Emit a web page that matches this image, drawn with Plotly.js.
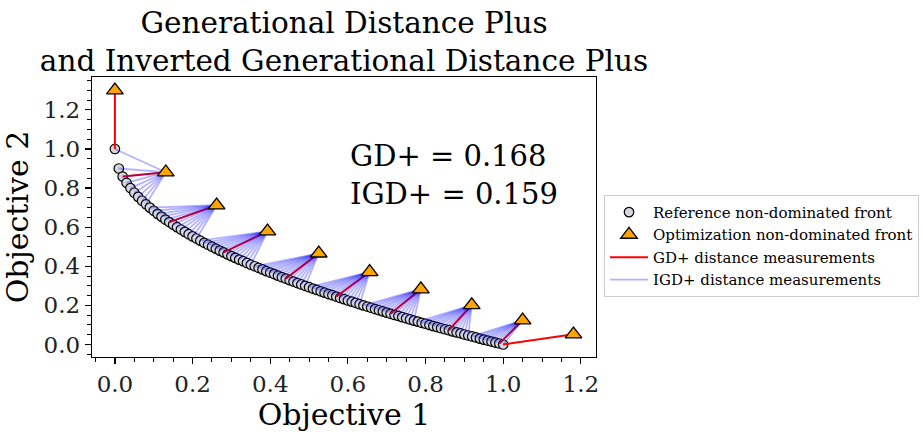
<!DOCTYPE html>
<html><head><meta charset="utf-8">
<script src="https://cdn.plot.ly/plotly-3.0.1.min.js"></script>
<style>html,body{margin:0;padding:0;background:#fff}#chart{width:923px;height:435px}</style>
</head><body><div id="chart"></div>
<script>
const refX = [0.00,0.01,0.02,0.03,0.04,0.05,0.06,0.07,0.08,0.09,
  0.10,0.11,0.12,0.13,0.14,0.15,0.16,0.17,0.18,0.19,
  0.20,0.21,0.22,0.23,0.24,0.25,0.26,0.27,0.28,0.29,
  0.30,0.31,0.32,0.33,0.34,0.35,0.36,0.37,0.38,0.39,
  0.40,0.41,0.42,0.43,0.44,0.45,0.46,0.47,0.48,0.49,
  0.50,0.51,0.52,0.53,0.54,0.55,0.56,0.57,0.58,0.59,
  0.60,0.61,0.62,0.63,0.64,0.65,0.66,0.67,0.68,0.69,
  0.70,0.71,0.72,0.73,0.74,0.75,0.76,0.77,0.78,0.79,
  0.80,0.81,0.82,0.83,0.84,0.85,0.86,0.87,0.88,0.89,
  0.90,0.91,0.92,0.93,0.94,0.95,0.96,0.97,0.98,0.99,1.00];
const refY = [1.000,0.900,0.859,0.827,0.800,0.776,0.755,0.735,0.717,0.700,
  0.684,0.668,0.654,0.639,0.626,0.613,0.600,0.588,0.576,0.564,
  0.553,0.542,0.531,0.520,0.510,0.500,0.490,0.480,0.471,0.461,
  0.452,0.443,0.434,0.426,0.417,0.408,0.400,0.392,0.384,0.375,
  0.368,0.360,0.352,0.344,0.337,0.329,0.322,0.314,0.307,0.300,
  0.293,0.286,0.279,0.272,0.265,0.258,0.252,0.245,0.238,0.232,
  0.225,0.219,0.213,0.206,0.200,0.194,0.188,0.181,0.175,0.169,
  0.163,0.157,0.151,0.146,0.140,0.134,0.128,0.122,0.117,0.111,
  0.106,0.100,0.094,0.089,0.083,0.078,0.073,0.067,0.062,0.057,
  0.051,0.046,0.041,0.036,0.030,0.025,0.020,0.015,0.010,0.005,0.000];
const optX = [0.000,0.131,0.262,0.393,0.525,0.656,0.788,0.919,1.050,1.181];
const optY = [1.300,0.881,0.712,0.579,0.466,0.371,0.283,0.202,0.124,0.052];

const seriesNames = ['Reference non-dominated front','Optimization non-dominated front',
  'GD+ distance measurements','IGD+ distance measurements'];
const titleText = 'Generational Distance Plus<br>and Inverted Generational Distance Plus';
const xTitle = 'Objective 1';
const yTitle = 'Objective 2';
const xTickVals = [0,0.2,0.4,0.6,0.8,1.0,1.2];
const xTickText = ['0.0','0.2','0.4','0.6','0.8','1.0','1.2'];
const yTickVals = [0,0.2,0.4,0.6,0.8,1.0,1.2];
const yTickText = ['0.0','0.2','0.4','0.6','0.8','1.0','1.2'];
const metricText = ['GD+ = 0.168','IGD+ = 0.159'];

const FONT = 'DejaVu Serif';

function dplus(ax, ay, rx, ry) {
  const dx = Math.max(ax - rx, 0), dy = Math.max(ay - ry, 0);
  return Math.sqrt(dx*dx + dy*dy);
}

const gdX = [], gdY = [];
for (let i = 0; i < optX.length; i++) {
  let best = -1, bd = Infinity;
  for (let j = 0; j < refX.length; j++) {
    const d = dplus(optX[i], optY[i], refX[j], refY[j]);
    if (d < bd) { bd = d; best = j; }
  }
  gdX.push(optX[i], refX[best], null);
  gdY.push(optY[i], refY[best], null);
}

const traces = [];
traces.push({
  x: refX, y: refY, type: 'scatter', mode: 'markers', name: seriesNames[0],
  legendrank: 1, legendgroup: 'ref',
  marker: {symbol: 'circle', size: 9.5, color: '#d4d6dc', line: {color: '#000', width: 1.2}}
});
traces.push({
  x: gdX, y: gdY, type: 'scatter', mode: 'lines', name: seriesNames[2],
  legendrank: 3, legendgroup: 'gd',
  line: {color: 'rgb(255,0,0)', width: 2}
});
for (let j = 0; j < refX.length; j++) {
  let best = -1, bd = Infinity;
  for (let i = 0; i < optX.length; i++) {
    const d = dplus(optX[i], optY[i], refX[j], refY[j]);
    if (d < bd) { bd = d; best = i; }
  }
  traces.push({
    x: [refX[j], optX[best]], y: [refY[j], optY[best]], type: 'scatter', mode: 'lines',
    name: seriesNames[3], legendrank: 4, legendgroup: 'igd', showlegend: j === 0,
    line: {color: 'rgba(0,0,255,0.3)', width: 1.8}, hoverinfo: 'skip'
  });
}
traces.push({
  x: optX, y: optY, type: 'scatter', mode: 'markers', name: seriesNames[1],
  legendrank: 2, legendgroup: 'opt',
  marker: {symbol: 'triangle-up', size: 14.5, color: '#FFA500', line: {color: '#000', width: 1.3}}
});

const layout = {
  width: 923, height: 435,
  margin: {l: 92, r: 327, t: 77, b: 78},
  paper_bgcolor: '#fff', plot_bgcolor: '#fff',
  font: {family: FONT, color: '#000'},
  showlegend: true,
  title: {text: titleText, font: {family: FONT, size: 29.5, color: '#000'},
    x: 0.5, xref: 'paper', xanchor: 'center', y: 0.924, yref: 'container', yanchor: 'bottom',
    pad: {t: 0, b: 0, l: 0, r: 0}},
  xaxis: {
    range: [-0.059, 1.239], showgrid: false, zeroline: false,
    showline: true, linecolor: '#000', linewidth: 1.2, mirror: true,
    ticks: 'outside', ticklen: 6, tickwidth: 1.2, tickcolor: '#000',
    tickvals: xTickVals, ticktext: xTickText,
    tickfont: {family: FONT, size: 23, color: '#222'},
    minor: {dtick: 0.05, tick0: 0, ticks: 'outside', ticklen: 3.5, tickwidth: 1, tickcolor: '#000', showgrid: false},
    title: {text: xTitle, font: {family: FONT, size: 30, color: '#000'}, standoff: 4},
    automargin: false
  },
  yaxis: {
    range: [-0.064, 1.368], showgrid: false, zeroline: false,
    showline: true, linecolor: '#000', linewidth: 1.2, mirror: true,
    ticks: 'outside', ticklen: 6, tickwidth: 1.2, tickcolor: '#000',
    tickvals: yTickVals, ticktext: yTickText,
    tickfont: {family: FONT, size: 23, color: '#222'},
    minor: {dtick: 0.05, tick0: 0, ticks: 'outside', ticklen: 3.5, tickwidth: 1, tickcolor: '#000', showgrid: false},
    title: {text: yTitle, font: {family: FONT, size: 30, color: '#000'}, standoff: 8},
    automargin: false
  },
  legend: {
    x: 0.6544, xref: 'container', xanchor: 'left', y: 0.552, yref: 'container', yanchor: 'top',
    bordercolor: '#cccccc', borderwidth: 1, bgcolor: '#fff',
    font: {family: FONT, size: 15, color: '#000'},
    tracegroupgap: 0, itemsizing: 'trace', itemwidth: 38
  },
  annotations: [{
    text: metricText.join('<br>'), x: 0.6, y: 0.866, xref: 'x', yref: 'y',
    xanchor: 'left', yanchor: 'middle', align: 'left', showarrow: false,
    font: {family: FONT, size: 29, color: '#000'}
  }]
};

Plotly.newPlot('chart', traces, layout, {displayModeBar: false, staticPlot: true});
</script>
</body></html>
